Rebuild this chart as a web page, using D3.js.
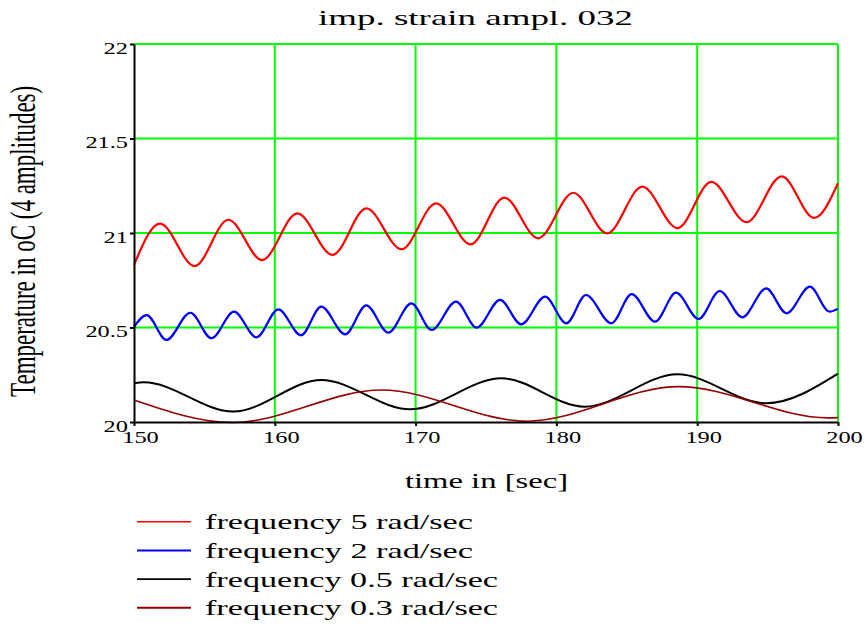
<html>
<head>
    <style>
        body {
            margin: 0;
            background: white;
        }
        svg text {
            font-family: "Liberation Serif", "Times New Roman", serif;
            fill: black;
        }
    </style>
    <script src="https://cdn.jsdelivr.net/npm/d3@7"></script>
</head>

<body>
<svg id="chart" width="867" height="625"></svg>

<script>

// values: [time in sec, temperature in oC]
let xTicks = [150, 160, 170, 180, 190, 200]
let yTicks = [20, 20.5, 21, 21.5, 22]

let legendLabels = [
    "frequency 5 rad/sec",
    "frequency 2 rad/sec",
    "frequency 0.5 rad/sec",
    "frequency 0.3 rad/sec"
]

let freq5 = [
    [150, 20.83], [151.85, 21.05], [154.3, 20.825], [156.7, 21.07], [159.1, 20.857],
    [161.6, 21.104], [164.1, 20.884], [166.5, 21.13], [169.0, 20.914], [171.45, 21.157],
    [173.9, 20.94], [176.3, 21.187], [178.7, 20.972], [181.2, 21.213], [183.6, 20.998],
    [186.1, 21.245], [188.6, 21.026], [191.0, 21.27], [193.5, 21.057], [196.0, 21.30],
    [198.3, 21.08], [200, 21.263]
]

let freq2 = [
    [150, 20.504], [150.9, 20.566], [152.3, 20.434], [154.0, 20.578], [155.5, 20.443],
    [157.1, 20.584], [158.7, 20.448], [160.25, 20.596], [161.86, 20.459], [163.3, 20.61],
    [165.0, 20.464], [166.5, 20.617], [168.06, 20.473], [169.7, 20.628], [171.14, 20.487],
    [172.87, 20.637], [174.34, 20.499], [176.0, 20.646], [177.5, 20.517], [179.2, 20.663],
    [180.7, 20.522], [182.1, 20.672], [183.9, 20.522], [185.35, 20.677], [187.0, 20.531],
    [188.5, 20.684], [190.1, 20.545], [191.6, 20.693], [193.2, 20.554], [194.9, 20.707],
    [196.35, 20.575], [198.0, 20.716], [199.4, 20.584], [200, 20.60]
]

let freq05 = [
    [150, 20.205], [150.7, 20.21], [157.05, 20.055], [163.3, 20.222], [169.6, 20.067],
    [176.1, 20.231], [182.0, 20.081], [188.6, 20.252], [194.9, 20.099], [200, 20.256]
]

let freq03 = [
    [150, 20.116], [157.0, 19.997], [167.6, 20.169], [177.9, 20.004], [188.7, 20.187],
    [199.3, 20.022], [200, 20.023]
]

let seriesList = [freq5, freq2, freq05, freq03]
let seriesColors = ["#ff0000", "#0000ff", "#000000", "#990000"]
let seriesWidths = [2.2, 2.2, 2, 1.6]
let legendWidths = [1.5, 2, 1.6, 2]

let width = 867
let height = 625
let svg = d3.select("#chart")

let x = d3.scaleLinear().domain([150, 200]).range([134, 838])
let y = d3.scaleLinear().domain([20, 22]).range([422, 44])

// width of a tick label in the picture (stretched digits)
function labelWidth(s) {
    let w = 0
    for (let ch of s) w += (ch === ".") ? 6 : 12.2
    return w
}

// green grid
let grid = svg.append("g")
grid.selectAll("line.v").data(xTicks.slice(1)).join("line")
    .attr("class", "v")
    .attr("x1", d => x(d)).attr("x2", d => x(d))
    .attr("y1", y(22)).attr("y2", y(20))
    .attr("stroke", "#00ff00")
    .attr("stroke-width", 2)
grid.selectAll("line.h").data(yTicks.slice(1)).join("line")
    .attr("class", "h")
    .attr("x1", x(150)).attr("x2", x(200))
    .attr("y1", d => y(d)).attr("y2", d => y(d))
    .attr("stroke", "#00ff00")
    .attr("stroke-width", 2)

// curves
let line = d3.line()
    .x(d => x(d[0]))
    .y(d => y(d[1]))
    .curve(d3.curveMonotoneX)

svg.append("g").selectAll("path").data(seriesList).join("path")
    .attr("d", d => line(d))
    .attr("fill", "none")
    .attr("stroke", (d, i) => seriesColors[i])
    .attr("stroke-width", (d, i) => seriesWidths[i])

// axes
let yAxis = d3.axisLeft(y)
    .tickValues(yTicks)
    .tickSize(4)
    .tickSizeOuter(0)
    .tickFormat(d => String(d))

let gy = svg.append("g")
    .attr("transform", "translate(134,0)")
    .call(yAxis)
gy.attr("font-family", null).attr("font-size", 17)
gy.select(".domain").attr("stroke-width", 2)
gy.selectAll(".tick line").attr("stroke-width", 2)
gy.selectAll(".tick text")
    .attr("x", -6)
    .attr("dy", 9)
    .attr("textLength", d => labelWidth(String(d)))
    .attr("lengthAdjust", "spacingAndGlyphs")

let xAxis = d3.axisBottom(x)
    .tickValues(xTicks)
    .tickSize(4)
    .tickSizeOuter(0)
    .tickFormat(d => String(d))

let gx = svg.append("g")
    .attr("transform", "translate(0,422)")
    .call(xAxis)
gx.attr("font-family", null).attr("font-size", 17)
gx.select(".domain").attr("stroke-width", 2)
gx.selectAll(".tick line").attr("stroke-width", 2)
gx.selectAll(".tick text")
    .attr("x", 6)
    .attr("y", 21.3)
    .attr("dy", 0)
    .attr("textLength", d => labelWidth(String(d)))
    .attr("lengthAdjust", "spacingAndGlyphs")

// titles
svg.append("text")
    .attr("x", 318).attr("y", 25)
    .attr("font-size", 22)
    .attr("textLength", 315)
    .attr("lengthAdjust", "spacingAndGlyphs")
    .text("imp. strain ampl. 032")

svg.append("text")
    .attr("x", 405).attr("y", 488)
    .attr("font-size", 21)
    .attr("textLength", 163)
    .attr("lengthAdjust", "spacingAndGlyphs")
    .text("time in [sec]")

// y title: glyphs are tall across the text direction in the picture
svg.append("text")
    .attr("transform", "translate(35,397) rotate(-90) scale(1,1.55)")
    .attr("font-size", 23)
    .text("Temperature in oC (4 amplitudes)")

// legend
let legendTextWidths = [268, 268, 293, 293]
let legend = svg.append("g").selectAll("g").data(legendLabels).join("g")
    .attr("transform", (d, i) => `translate(0,${521.7 + i * 28.7})`)
legend.append("line")
    .attr("x1", 137).attr("x2", 191)
    .attr("stroke", (d, i) => seriesColors[i])
    .attr("stroke-width", (d, i) => legendWidths[i])
legend.append("text")
    .attr("x", 205).attr("y", 7.6)
    .attr("font-size", 21)
    .attr("textLength", (d, i) => legendTextWidths[i])
    .attr("lengthAdjust", "spacingAndGlyphs")
    .text(d => d)

</script>
</body>
</html>
